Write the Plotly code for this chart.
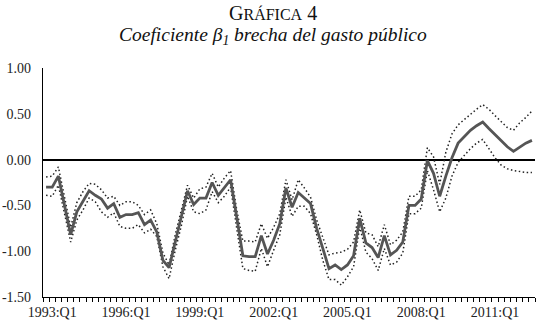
import plotly.graph_objects as go

# Quarters 1992:Q4 .. 2012:Q3
quarters = []
y, q = 1992, 4
for _ in range(80):
    quarters.append(f"{y}:Q{q}")
    q += 1
    if q > 4:
        q = 1
        y += 1

beta = [
    -0.30, -0.30, -0.18, -0.50, -0.82, -0.57, -0.45, -0.34, -0.39, -0.43,
    -0.53, -0.48, -0.63, -0.60, -0.60, -0.58, -0.71, -0.66, -0.79, -1.10,
    -1.18, -0.90, -0.62, -0.34, -0.49, -0.42, -0.42, -0.25, -0.39, -0.31,
    -0.22, -0.63, -1.05, -1.06, -1.06, -0.83, -1.03, -0.88, -0.70, -0.31,
    -0.52, -0.36, -0.42, -0.48, -0.75, -0.97, -1.19, -1.15, -1.20, -1.15,
    -1.05, -0.64, -0.91, -0.96, -1.07, -0.83, -1.04, -0.99, -0.90, -0.50,
    -0.50, -0.43, -0.01, -0.15, -0.40, -0.18, 0.02, 0.18, 0.25, 0.32,
    0.37, 0.41, 0.34, 0.27, 0.21, 0.14, 0.09, 0.14, 0.18, 0.21,
]

upper = [
    -0.19, -0.18, -0.08, -0.40, -0.74, -0.47, -0.35, -0.26, -0.27, -0.33,
    -0.42, -0.40, -0.50, -0.46, -0.46, -0.50, -0.60, -0.55, -0.70, -1.02,
    -1.15, -0.82, -0.55, -0.28, -0.42, -0.32, -0.30, -0.15, -0.30, -0.20,
    -0.12, -0.55, -0.89, -0.89, -0.90, -0.70, -0.86, -0.74, -0.59, -0.22,
    -0.44, -0.22, -0.31, -0.41, -0.66, -0.86, -1.04, -1.02, -1.01, -0.98,
    -0.90, -0.55, -0.80, -0.82, -0.95, -0.71, -0.93, -0.88, -0.79, -0.40,
    -0.40, -0.33, 0.13, 0.03, -0.27, 0.08, 0.28, 0.38, 0.44, 0.50,
    0.55, 0.60, 0.55, 0.48, 0.42, 0.35, 0.32, 0.40, 0.46, 0.53,
]

lower = [
    -0.39, -0.40, -0.28, -0.60, -0.90, -0.66, -0.55, -0.42, -0.46, -0.57,
    -0.63, -0.58, -0.73, -0.75, -0.75, -0.71, -0.80, -0.76, -0.84, -1.17,
    -1.30, -0.99, -0.72, -0.40, -0.57, -0.59, -0.55, -0.35, -0.47, -0.40,
    -0.30, -0.75, -1.19, -1.21, -1.22, -0.97, -1.17, -0.99, -0.82, -0.41,
    -0.62, -0.51, -0.51, -0.59, -0.82, -1.10, -1.31, -1.31, -1.37, -1.28,
    -1.17, -0.73, -1.01, -1.08, -1.21, -0.97, -1.15, -1.12, -1.02, -0.59,
    -0.59, -0.53, -0.12, -0.33, -0.57, -0.42, -0.18, -0.03, 0.05, 0.12,
    0.18, 0.22, 0.12, 0.02, -0.06, -0.10, -0.12, -0.13, -0.14, -0.14,
]

x_labels = ["1993:Q1", "1996:Q1", "1999:Q1", "2002:Q1", "2005.Q1", "2008:Q1", "2011:Q1"]
y_ticks = [1.0, 0.5, 0.0, -0.5, -1.0, -1.5]
y_ticktext = ["1.00", "0.50", "0.00", "-0.50", "-1.00", "-1.50"]

xi = list(range(len(quarters)))
label_pos = [quarters.index(l.replace(".", ":")) for l in x_labels]

FONT = "Liberation Serif"
DOT = "1.5px,2.5px"

fig = go.Figure()
fig.add_trace(go.Scatter(x=xi, y=upper, mode="lines",
                         line=dict(color="#222222", width=1.5, dash=DOT),
                         hoverinfo="skip", showlegend=False))
fig.add_trace(go.Scatter(x=xi, y=lower, mode="lines",
                         line=dict(color="#222222", width=1.5, dash=DOT),
                         hoverinfo="skip", showlegend=False))
fig.add_trace(go.Scatter(x=xi, y=beta, mode="lines",
                         line=dict(color="#555555", width=2.8),
                         customdata=quarters, showlegend=False))

fig.update_layout(
    width=544, height=326,
    margin=dict(l=43, r=9, t=68, b=29),
    paper_bgcolor="white", plot_bgcolor="white",
    font=dict(family=FONT, size=14, color="#222222"),
    showlegend=False,
)
fig.update_xaxes(
    range=[-0.5, 79.5], showgrid=False, zeroline=False, automargin=False,
    showline=True, linecolor="black", linewidth=1.2,
    tickmode="array", tickvals=label_pos, ticktext=x_labels,
    ticks="", ticklabelstandoff=2,
    tickfont=dict(family=FONT, size=14, color="#222222"),
    minor=dict(tick0=-0.5, dtick=1, ticks="outside", ticklen=4,
               tickcolor="black", tickwidth=1, showgrid=False),
)
fig.update_yaxes(
    range=[-1.5, 1.0], showgrid=False, automargin=False,
    zeroline=True, zerolinecolor="black", zerolinewidth=1.5,
    showline=True, linecolor="black", linewidth=1.2,
    tickmode="array", tickvals=y_ticks, ticktext=y_ticktext,
    ticks="", ticklabelstandoff=8,
    tickfont=dict(family=FONT, size=14, color="#222222"),
)

fig.add_annotation(
    text="G<span style='font-size:16px'>RÁFICA</span> 4",
    xref="paper", yref="paper", x=0.468, y=1.24, yanchor="middle",
    showarrow=False,
    font=dict(family=FONT, size=20, color="#111111"),
)
fig.add_annotation(
    text="<i>Coeficiente β<sub>1</sub> brecha del gasto público</i>",
    xref="paper", yref="paper", x=0.468, y=1.14, yanchor="middle",
    showarrow=False,
    font=dict(family=FONT, size=19.5, color="#111111"),
)

fig.write_html(
    "out.html",
    config={"displayModeBar": False},
    post_script="document.body.style.margin='0';document.body.style.overflow='hidden';",
)
